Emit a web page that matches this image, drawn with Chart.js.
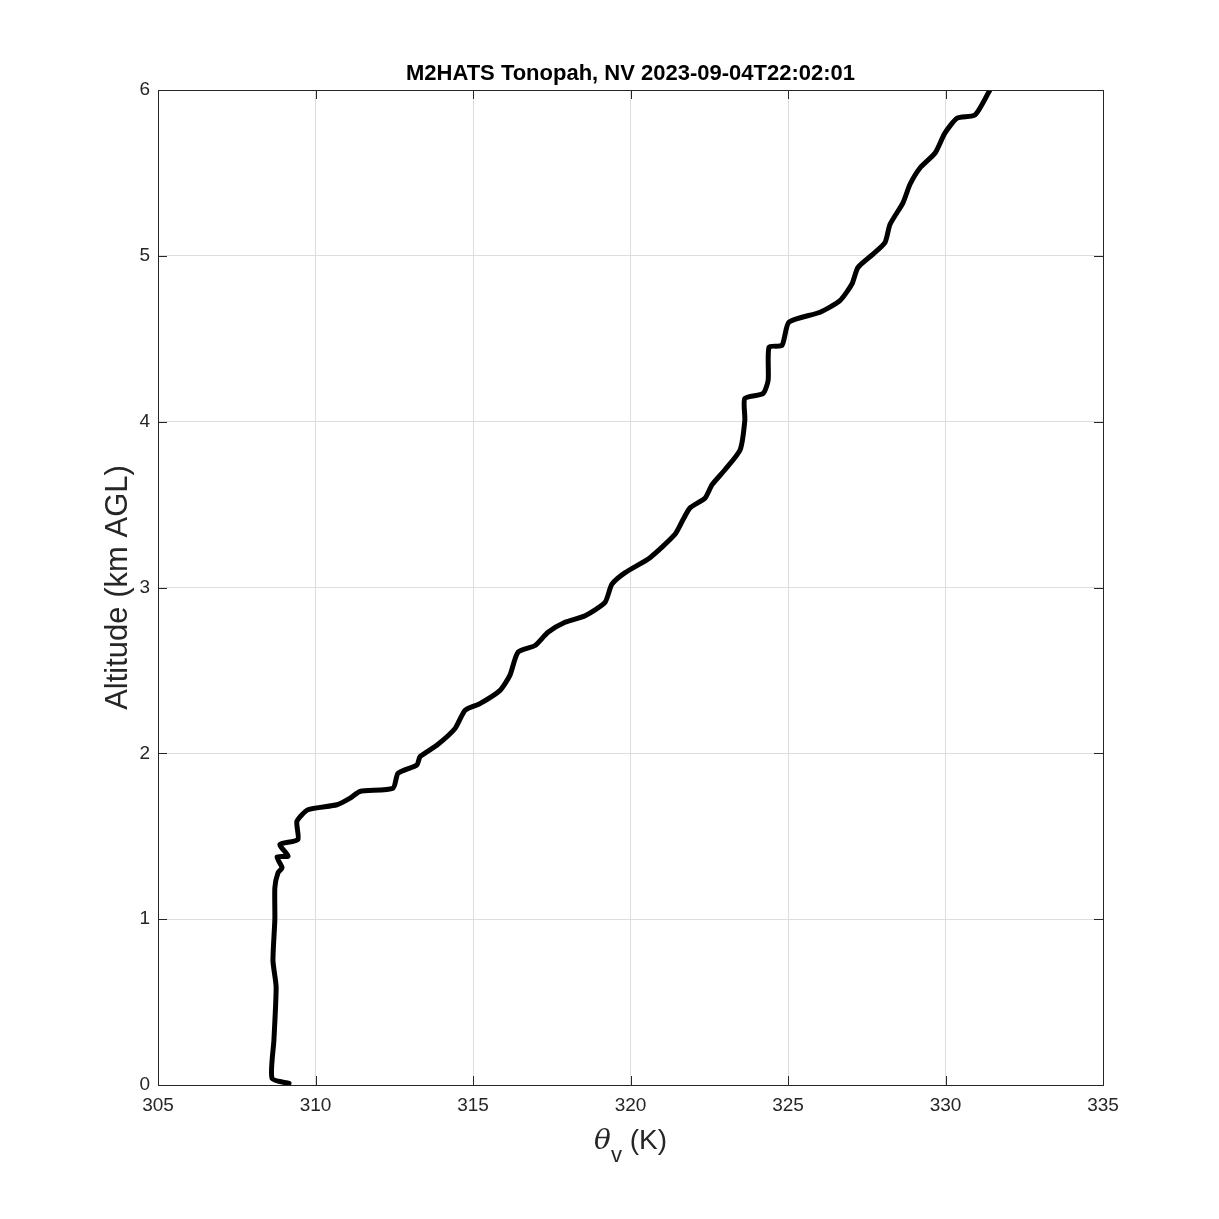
<!DOCTYPE html>
<html>
<head>
<meta charset="utf-8">
<script src="https://cdn.jsdelivr.net/npm/chart.js@4"></script>
<style>
  body { margin: 0; background: #fff; }
  #wrap { width: 1219px; height: 1219px; }
</style>
</head>
<body>
<div id="wrap"><canvas id="myChart" width="1219" height="1219"></canvas></div>
<script>
// profile: virtual potential temperature (K) vs altitude (km AGL)
var thetaV = [309.16, 308.62, 308.68, 308.75, 308.65, 308.71, 308.71, 308.81, 308.94, 308.78, 309.13, 308.87,
  309.44, 309.41, 309.76, 310.68, 311.10, 311.41, 312.46, 312.62, 313.22, 313.32, 313.86, 314.43, 314.75,
  315.22, 315.86, 316.17, 316.43, 316.97, 317.38, 317.92, 318.56, 319.19, 319.41, 319.83, 320.62, 321.41,
  321.67, 321.89, 322.37, 322.59, 323.00, 323.48, 323.63, 323.63, 324.21, 324.37, 324.40, 324.81, 325.03,
  326.02, 326.65, 327.03, 327.22, 327.70, 328.08, 328.24, 328.65, 328.87, 329.19, 329.67, 329.98, 330.37,
  330.94, 331.41];
var altitude = [0.01, 0.04, 0.27, 0.59, 0.75, 1.00, 1.19, 1.28, 1.31, 1.375, 1.38, 1.45,
  1.48, 1.59, 1.66, 1.69, 1.73, 1.77, 1.79, 1.88, 1.93, 1.98, 2.05, 2.15, 2.26,
  2.30, 2.38, 2.47, 2.61, 2.65, 2.73, 2.79, 2.83, 2.91, 3.02, 3.09, 3.18, 3.32,
  3.41, 3.48, 3.54, 3.62, 3.71, 3.83, 4.01, 4.14, 4.17, 4.25, 4.45, 4.46, 4.60,
  4.66, 4.73, 4.83, 4.93, 5.01, 5.08, 5.19, 5.32, 5.43, 5.53, 5.62, 5.74, 5.83,
  5.85, 6.00];
var xTicks = [305, 310, 315, 320, 325, 330, 335];
var yTicks = [0, 1, 2, 3, 4, 5, 6];
var chartTitle = 'M2HATS Tonopah, NV 2023-09-04T22:02:01';

var points = thetaV.map(function (t, i) { return {x: t, y: altitude[i]}; });
var fontFam = '"Liberation Sans", Arial, Helvetica, sans-serif';

// box, inward tick marks and titles, drawn like the matlab figure
var frame = {
  id: 'frame',
  afterDraw: function (chart) {
    var c = chart.ctx, a = chart.chartArea;
    var xs = chart.scales.x, ys = chart.scales.y;
    c.save();
    c.strokeStyle = '#262626';
    c.lineWidth = 1;
    c.strokeRect(a.left + 0.5, a.top + 0.5, a.right - a.left, a.bottom - a.top);
    xTicks.forEach(function (v) {
      var px = Math.round(xs.getPixelForValue(v)) + 0.5;
      c.beginPath();
      c.moveTo(px, a.bottom); c.lineTo(px, a.bottom - 9);
      c.moveTo(px, a.top); c.lineTo(px, a.top + 9);
      c.stroke();
    });
    yTicks.forEach(function (v) {
      var py = Math.round(ys.getPixelForValue(v)) + 0.5;
      c.beginPath();
      c.moveTo(a.left, py); c.lineTo(a.left + 9, py);
      c.moveTo(a.right, py); c.lineTo(a.right - 9, py);
      c.stroke();
    });
    c.fillStyle = '#000';
    c.textAlign = 'center';
    c.textBaseline = 'alphabetic';
    c.font = 'bold 22px ' + fontFam;
    c.fillText(chartTitle, (a.left + a.right) / 2, 80);

    // y axis title
    c.fillStyle = '#262626';
    c.save();
    c.translate(127, (a.top + a.bottom) / 2);
    c.rotate(-Math.PI / 2);
    c.font = '31px ' + fontFam;
    c.fillText('Altitude (km AGL)', 0, 0);
    c.restore();

    // x axis title with subscript
    var cx = (a.left + a.right) / 2, by = 1149;
    c.textAlign = 'left';
    c.font = 'italic 28px "DejaVu Serif", "Liberation Serif", serif';
    var w1 = c.measureText('θ').width;
    c.font = '22px ' + fontFam;
    var w2 = c.measureText('v').width;
    c.font = '28px ' + fontFam;
    var w3 = c.measureText(' (K)').width;
    var x0 = cx - (w1 + w2 + w3) / 2;
    c.font = 'italic 28px "DejaVu Serif", "Liberation Serif", serif';
    c.fillText('θ', x0, by);
    c.font = '22px ' + fontFam;
    c.fillText('v', x0 + w1, by + 13);
    c.font = '28px ' + fontFam;
    c.fillText(' (K)', x0 + w1 + w2, by);
    c.restore();
  }
};

var ctx = document.getElementById('myChart').getContext('2d');
var myChart = new Chart(ctx, {
  type: 'scatter',
  data: {
    datasets: [{
      data: points,
      showLine: true,
      borderColor: '#000',
      borderWidth: 5,
      pointRadius: 0,
      tension: 0.2,
      borderJoinStyle: 'round',
      borderCapStyle: 'round'
    }]
  },
  options: {
    responsive: false,
    animation: false,
    layout: {padding: {top: 90, right: 116, left: 0, bottom: 0}},
    plugins: {legend: {display: false}, tooltip: {enabled: false}},
    scales: {
      x: {
        type: 'linear', min: 305, max: 335,
        afterBuildTicks: function (s) { s.ticks = xTicks.map(function (v) { return {value: v}; }); },
        afterFit: function (s) { s.height = 134; },
        border: {display: false},
        grid: {color: '#dedede', drawTicks: false},
        ticks: {color: '#262626', padding: 9, maxRotation: 0, font: {size: 19, family: fontFam}}
      },
      y: {
        type: 'linear', min: 0, max: 6,
        afterBuildTicks: function (s) { s.ticks = yTicks.map(function (v) { return {value: v}; }); },
        afterFit: function (s) { s.width = 158; },
        border: {display: false},
        grid: {color: '#dedede', drawTicks: false},
        ticks: {color: '#262626', padding: 8, font: {size: 19, family: fontFam}}
      }
    }
  },
  plugins: [frame]
});
</script>
</body>
</html>
